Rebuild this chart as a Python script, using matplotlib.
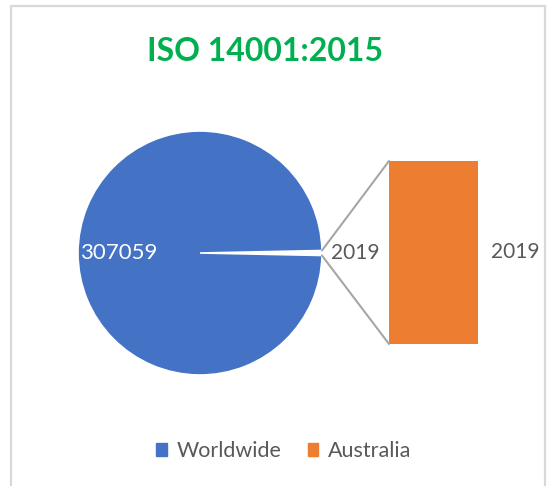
import matplotlib.pyplot as plt
from matplotlib.patches import ConnectionPatch, Rectangle
import numpy as np

# data
categories = ["Worldwide", "Australia"]
values = [307059, 2019]
title = "ISO 14001:2015"

blue = "#4472C4"
orange = "#ED7D31"
grey_txt = "#595959"

plt.rcParams["font.family"] = ["Lato", "DejaVu Sans"]

fig = plt.figure(figsize=(5.47, 4.86), dpi=100)
fig.patch.set_facecolor("white")

# chart border
fig.add_artist(Rectangle((11 / 547, -0.01), (545 - 11) / 547, (486 - 6) / 486 + 0.01,
                         transform=fig.transFigure, fill=False,
                         edgecolor="#D9D9D9", lw=1.6))

fig.text(0.485, 0.895, title, ha="center", va="center",
         fontsize=23, fontweight="bold", color="#00B050")

# pie: Worldwide + "other" slice (which is broken out into the bar)
ax_pie = fig.add_axes([78 / 547, 111 / 486, 244 / 547, 244 / 486])
other_angle = values[1] / sum(values) * 360
wedges, _ = ax_pie.pie([values[1], values[0]], colors=["white", blue],
                       startangle=-other_angle / 2, counterclock=True,
                       wedgeprops=dict(edgecolor="white", linewidth=1.2))
ax_pie.set_xlim(-1, 1)
ax_pie.set_ylim(-1, 1)
ax_pie.set_aspect("equal")
ax_pie.axis("off")

ax_pie.text(-0.67, 0, str(values[0]), ha="center", va="center",
            color="white", fontsize=16)
ax_pie.text(1.27, 0, str(values[1]), ha="center", va="center",
            color=grey_txt, fontsize=15)

# bar of the broken-out slice
ax_bar = fig.add_axes([389 / 547, 142 / 486, 89 / 547, 183 / 486])
ax_bar.bar([0], [values[1]], width=1, color=orange)
ax_bar.set_xlim(-0.5, 0.5)
ax_bar.set_ylim(0, values[1])
ax_bar.axis("off")
ax_bar.text(0.92, values[1] / 2, str(values[1]), ha="center", va="center",
            color=grey_txt, fontsize=15)

# connector lines from slice edge to bar corners
theta = np.deg2rad(other_angle / 2)
for sign, ybar in [(1, values[1]), (-1, 0)]:
    con = ConnectionPatch(xyA=(np.cos(theta), sign * np.sin(theta)), coordsA=ax_pie.transData,
                          xyB=(-0.5, ybar), coordsB=ax_bar.transData,
                          color="#A6A6A6", lw=1.5)
    fig.add_artist(con)

# legend
handles = [Rectangle((0, 0), 1, 1, color=c) for c in [blue, orange]]
leg = fig.legend(handles, categories, loc="center", bbox_to_anchor=(0.519, 0.072),
                 ncol=2, frameon=False, fontsize=15.5, handlelength=0.5, handleheight=0.5,
                 handletextpad=0.45, columnspacing=1.2)
for t in leg.get_texts():
    t.set_color(grey_txt)

fig.savefig("out.png", dpi=100, facecolor="white")
